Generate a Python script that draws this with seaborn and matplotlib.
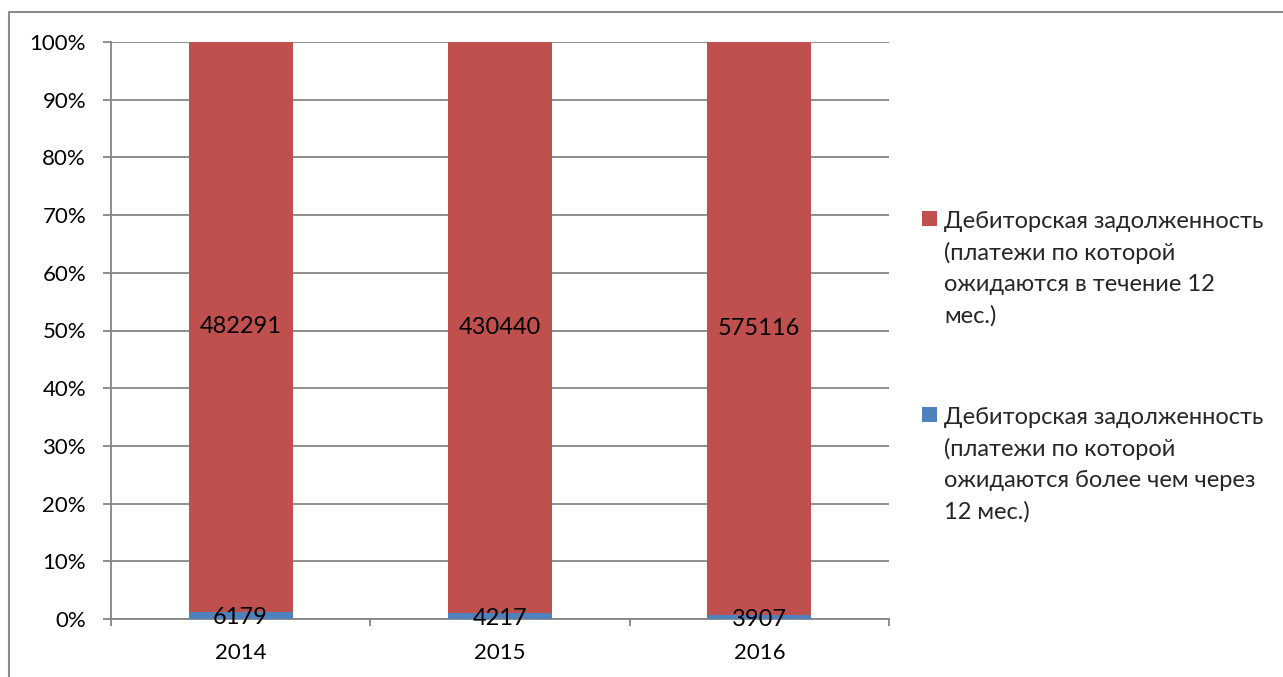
import matplotlib
matplotlib.use("Agg")
import matplotlib.pyplot as plt
from matplotlib.lines import Line2D
from matplotlib.ticker import PercentFormatter, FixedLocator
import seaborn as sns
import pandas as pd

# Receivables by year (thousand rub.)
years = ["2014", "2015", "2016"]
short_term = [482291, 430440, 575116]   # payments expected within 12 months
long_term = [6179, 4217, 3907]          # payments expected beyond 12 months

label_short = "Дебиторская задолженность\n(платежи по которой\nожидаются в течение 12\nмес.)"
label_long = "Дебиторская задолженность\n(платежи по которой\nожидаются более чем через\n12 мес.)"

RED = "#C0504D"
BLUE = "#4F81BD"
GRID = "#868686"

sns.set_theme(style="white")
plt.rcParams["font.family"] = ["Lato", "DejaVu Sans"]

totals = [s + l for s, l in zip(short_term, long_term)]
df = pd.DataFrame({
    "year": years,
    "total_pct": [100.0] * len(years),
    "long_pct": [l / t * 100 for l, t in zip(long_term, totals)],
    "short_pct": [s / t * 100 for s, t in zip(short_term, totals)],
})

fig = plt.figure(figsize=(12.83, 6.77), dpi=100)
W, H = 1283, 677
ax = fig.add_axes([111 / W, 1 - 619 / H, (889 - 111) / W, (619 - 42) / H])

# full-height red stack, with the long-term part drawn over its base
sns.barplot(data=df, x="year", y="total_pct", color=RED, width=0.4,
            saturation=1, linewidth=0, ax=ax, label=label_short, zorder=3)
sns.barplot(data=df, x="year", y="long_pct", color=BLUE, width=0.4,
            saturation=1, linewidth=0, ax=ax, label=label_long, zorder=3)

fs = 17
tick_fs = 16
for i in range(len(years)):
    lp = df["long_pct"][i]
    ax.text(i, lp + df["short_pct"][i] / 2, f"{short_term[i]}", ha="center",
            va="center", fontsize=fs, color="black", zorder=5)
    ax.text(i, lp / 2, f"{long_term[i]}", ha="center", va="center_baseline",
            fontsize=fs, color="black", zorder=5)

ax.set_xlim(-0.5, 2.5)
ax.set_ylim(0, 100)
ax.yaxis.set_major_locator(FixedLocator(range(0, 101, 10)))
ax.yaxis.set_major_formatter(PercentFormatter(decimals=0))
ax.set_xlabel("")
ax.set_ylabel("")

ax.grid(axis="y", color=GRID, linewidth=1.3, zorder=0)
ax.grid(axis="x", visible=False)
for side in ("top", "right"):
    ax.spines[side].set_visible(False)
for side in ("left", "bottom"):
    ax.spines[side].set_color(GRID)
    ax.spines[side].set_linewidth(1.3)

ax.tick_params(axis="y", which="major", left=True, length=6, width=1.3,
               color=GRID, pad=12, labelsize=tick_fs, labelcolor="black")
ax.tick_params(axis="x", which="major", bottom=False, length=0, pad=17,
               labelsize=tick_fs, labelcolor="black")
ax.xaxis.set_minor_locator(FixedLocator([-0.5, 0.5, 1.5, 2.5]))
ax.tick_params(axis="x", which="minor", bottom=True, length=5, width=1.3,
               color=GRID, direction="out")

handles, labels = ax.get_legend_handles_labels()
leg = ax.legend(handles, labels, loc="center left",
                bbox_to_anchor=(1.015, 0.4376),
                frameon=False, fontsize=fs, handlelength=0.64,
                handleheight=0.64, handletextpad=0.3, labelspacing=3.4)
for t in leg.get_texts():
    t.set_linespacing(1.57)
# put each key square beside the first line of its label
for column in leg._legend_handle_box.get_children():
    for row in column.get_children():
        row.align = "top"

# chart frame lines (top and left)
fig.add_artist(Line2D([9 / W, 1], [1 - 12 / H, 1 - 12 / H], color="#8C8C8C",
                      linewidth=1.5, transform=fig.transFigure))
fig.add_artist(Line2D([9 / W, 9 / W], [0, 1 - 12 / H], color="#8C8C8C",
                      linewidth=1.5, transform=fig.transFigure))

fig.savefig("out.png", dpi=100)
